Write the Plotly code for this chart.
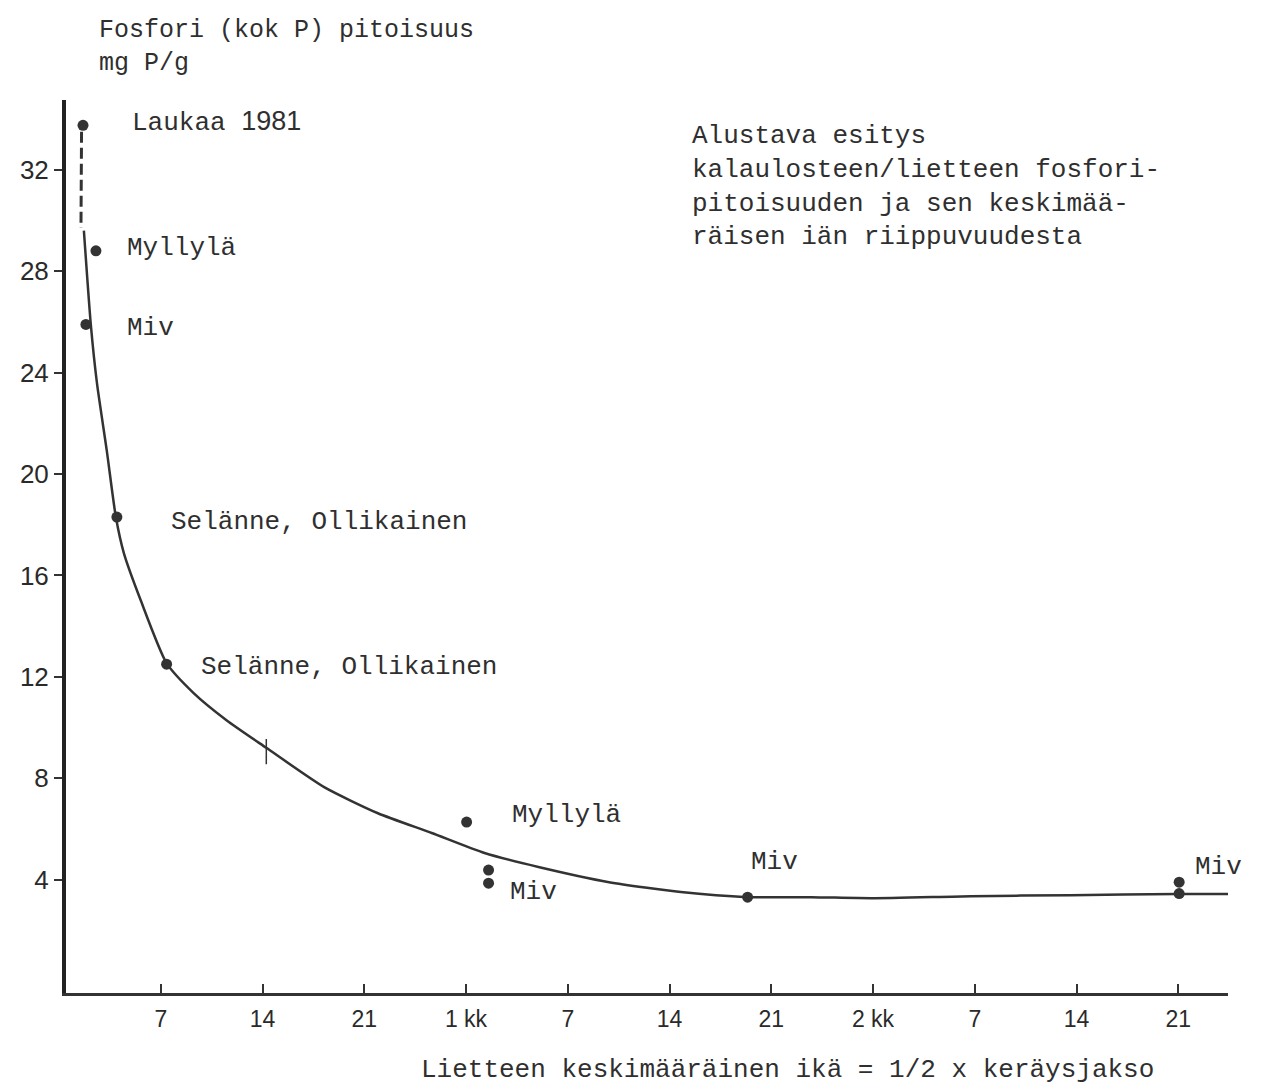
import plotly.graph_objects as go

# ---- data (x = days of mean sludge age, y = mg P/g) ----
curve_x = [1.71, 2.19, 2.61, 3.29, 3.91, 4.46, 5.62, 7.40, 9.26, 11.52, 14.26, 18.24,
           21.94, 25.64, 29.27, 32.98, 37.84, 42.78, 47.37, 51.76, 55.88, 62.73, 69.59,
           77.0, 80.42]
curve_y = [29.6, 25.87, 23.58, 20.9, 18.3, 16.88, 15.02, 12.54, 11.36, 10.29, 9.2, 7.65,
           6.62, 5.84, 5.05, 4.50, 3.90, 3.51, 3.31, 3.31, 3.27, 3.35, 3.39, 3.43, 3.43]

dash_x = [1.55, 1.51]
dash_y = [33.5, 29.7]

point_x = [1.65, 2.54, 1.85, 3.98, 7.40, 28.04, 29.55, 29.55, 47.37, 77.06, 77.06]
point_y = [33.75, 28.8, 25.9, 18.3, 12.5, 6.27, 4.38, 3.86, 3.31, 3.9, 3.45]

curve_tick_x = [14.26]
curve_tick_y = [9.05]

label_text = ["Laukaa <span style='font-family:Liberation Sans;font-size:27px'>1981</span>",
              "Myllylä", "Miv", "Selänne, Ollikainen", "Selänne, Ollikainen",
              "Myllylä", "Miv", "Miv", "Miv"]
label_x = [4.85, 4.52, 4.52, 7.54, 9.60, 31.05, 30.92, 47.5, 78.0]
label_y = [33.87, 28.9, 25.75, 18.1, 12.38, 6.55, 3.51, 4.69, 4.5]

y_ticks = [4, 8, 12, 16, 20, 24, 28, 32]
x_ticks = [7, 14, 21, 28, 35, 42, 49, 56, 63, 70, 77]
x_tick_text = ["7", "14", "21", "1 kk", "7", "14", "21", "2 kk", "7", "14", "21"]

y_title = "Fosfori (kok P) pitoisuus<br>mg P/g"
x_title = "Lietteen keskimääräinen ikä = 1/2 x keräysjakso"
note = ("Alustava esitys<br>kalaulosteen/lietteen fosfori-<br>"
        "pitoisuuden ja sen keskimää-<br>räisen iän riippuvuudesta")

INK = "#333333"
TXT = "#2f2f2f"
MONO = "Liberation Mono, Courier New, monospace"
SANS = "Liberation Sans, Arial, sans-serif"

fig = go.Figure()
fig.add_trace(go.Scatter(x=curve_x, y=curve_y, mode="lines",
                         line=dict(color=INK, width=2.5, shape="spline", smoothing=0.6),
                         hoverinfo="skip"))
fig.add_trace(go.Scatter(x=dash_x, y=dash_y, mode="lines",
                         line=dict(color=INK, width=3, dash="11px,5px"), hoverinfo="skip"))
fig.add_trace(go.Scatter(x=point_x, y=point_y, mode="markers",
                         marker=dict(color=INK, size=11)))
fig.add_trace(go.Scatter(x=curve_tick_x, y=curve_tick_y, mode="markers",
                         marker=dict(symbol="line-ns", size=18,
                                     line=dict(color=INK, width=1.5))))

for t, xx, yy in zip(label_text, label_x, label_y):
    fig.add_annotation(x=xx, y=yy, xref="x", yref="y", text=t, showarrow=False,
                       xanchor="left", yanchor="middle",
                       font=dict(family=MONO, size=26, color=TXT))

fig.add_annotation(x=43.4, y=34.0, xref="x", yref="y", text=note, showarrow=False,
                   xanchor="left", yanchor="top", align="left",
                   font=dict(family=MONO, size=26, color=TXT))
fig.add_annotation(x=0.027, y=1.0966, xref="paper", yref="paper", text=y_title,
                   showarrow=False, xanchor="left", yanchor="top", align="left",
                   font=dict(family=MONO, size=25, color=TXT))
fig.add_annotation(x=0.621, y=-0.0862, xref="paper", yref="paper", text=x_title,
                   showarrow=False, xanchor="center", yanchor="middle",
                   font=dict(family=MONO, size=26, color=TXT))

# the page adds an 8 px body margin, so the figure is 8 px smaller on each side
fig.update_layout(
    width=1257, height=1078,
    margin=dict(l=54, r=37, t=92, b=93),
    paper_bgcolor="white", plot_bgcolor="white",
    showlegend=False,
    xaxis=dict(range=[0.48, 80.42], showgrid=False, zeroline=False,
               showline=True, linecolor=INK, linewidth=3,
               tickmode="array", tickvals=x_ticks, ticktext=x_tick_text,
               ticks="inside", ticklen=9, tickwidth=2, tickcolor=INK,
               ticklabelstandoff=3,
               tickfont=dict(family=SANS, size=23, color="#2a2a2a")),
    yaxis=dict(range=[-0.47, 34.75], showgrid=False, zeroline=False,
               showline=True, linecolor="#222", linewidth=4,
               tickmode="array", tickvals=y_ticks,
               ticks="outside", ticklen=8, tickwidth=2, tickcolor=INK,
               ticklabelstandoff=0,
               tickfont=dict(family=SANS, size=26, color="#2a2a2a")),
)

fig.write_html("out.html")
